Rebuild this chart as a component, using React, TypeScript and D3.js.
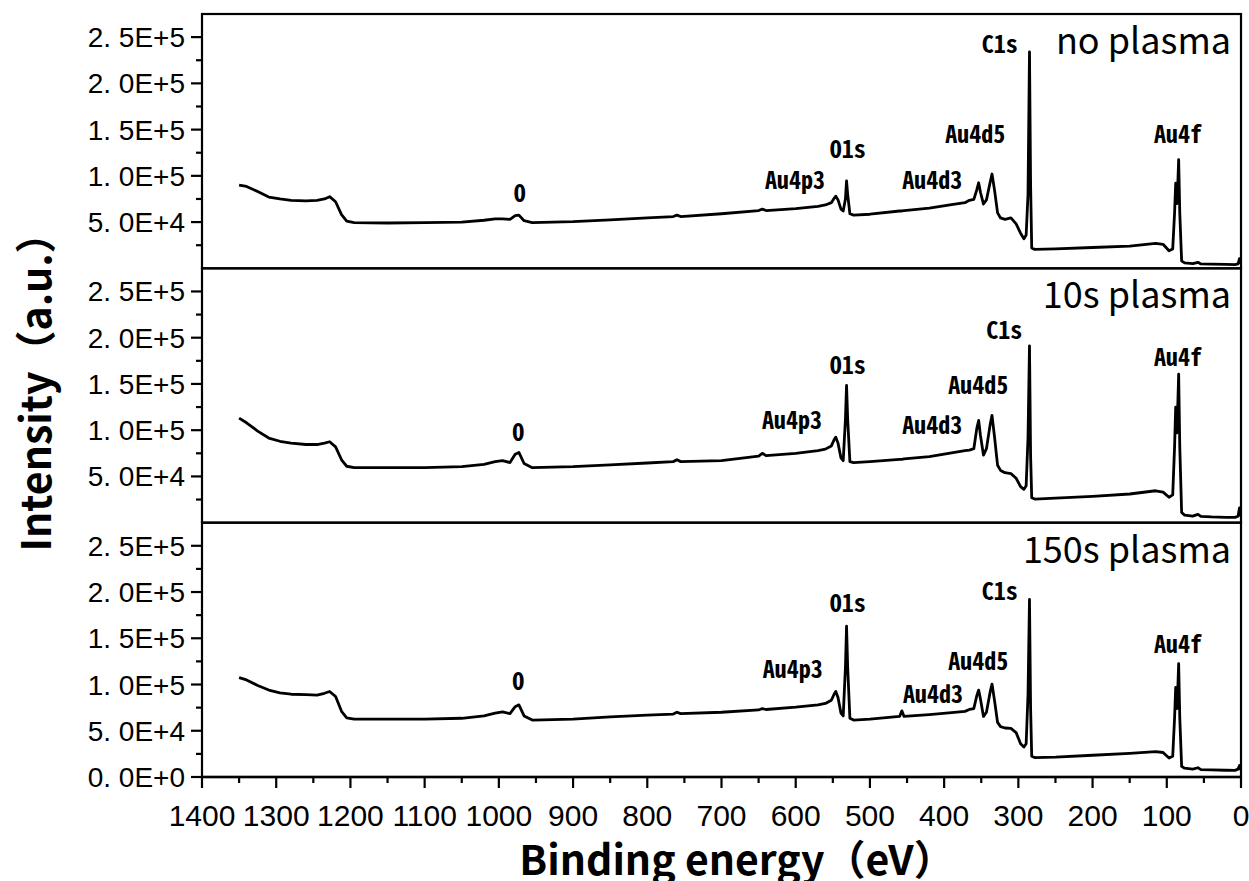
import React from "react";
import * as d3 from "d3";

// ---------- data ----------
const bindingEnergy = [
  1350, 1340, 1325, 1310, 1295, 1280, 1260, 1245, 1235, 1228,
  1220, 1212, 1205, 1195, 1150, 1100, 1050, 1020, 1005, 995,
  985, 978, 973, 966, 955, 900, 850, 800, 765, 760,
  755, 700, 650, 645, 640, 600, 570, 560, 552, 548,
  546, 543, 539, 536, 533, 531.5, 530, 527, 522, 500,
  460, 457, 454, 420, 390, 372, 366, 360, 356, 353.5,
  351, 347, 343, 338, 335.5, 332, 328, 324, 318, 310,
  303, 297, 292.5, 289.5, 287, 285, 283.5, 282, 278, 250,
  200, 150, 115, 105, 97, 92, 89.5, 88, 86.5, 85,
  84, 82.5, 80, 76, 65, 58, 54, 40, 20, 8,
  4, 2, 1, 0,
];

const noPlasma = [
  90000, 88500, 83000, 77000, 75000, 73500, 73000, 73500, 75000, 77500,
  72000, 58000, 51000, 49500, 49000, 49500, 50000, 52000, 53500, 53500,
  53000, 57000, 57500, 51500, 49500, 50500, 52500, 54500, 56000, 57500,
  56000, 59000, 62500, 64000, 62500, 64500, 67000, 68500, 71000, 76000,
  78000, 74000, 64000, 62000, 75000, 94500, 80000, 59000, 57500, 58500,
  62000, 62000, 62500, 65000, 69000, 71000, 73500, 74500, 85000, 92500,
  82000, 69500, 74000, 93000, 102000, 84000, 60000, 54500, 53000, 54500,
  48000, 38000, 32000, 36000, 80000, 234000, 90000, 22000, 20500, 21000,
  22500, 24000, 27000, 26000, 19000, 21000, 60000, 92000, 70000, 95000,
  117500, 60000, 8000, 5800, 5000, 6500, 4800, 4500, 4200, 4000,
  4800, 10500, 8000, 5000,
];

const plasma10s = [
  113000, 108000, 99000, 91500, 88000, 86000, 84500, 84500, 86000, 87500,
  82000, 68000, 61000, 59500, 59500, 59500, 60500, 63000, 66000, 67000,
  65000, 74000, 76000, 64000, 59500, 60500, 62500, 64500, 66000, 68000,
  66000, 67000, 72000, 75000, 72500, 75000, 78000, 79500, 83000, 90000,
  92500, 86000, 70000, 67000, 112000, 148500, 112000, 66000, 65000, 66000,
  68500, 68500, 69000, 71500, 75500, 78000, 78500, 80000, 102000, 110500,
  94000, 73000, 80000, 106000, 116000, 92000, 62000, 56500, 54000, 53000,
  48000, 39000, 36000, 40000, 92000, 191000, 72000, 27000, 25500, 26500,
  28500, 31000, 34500, 33000, 27500, 30000, 82000, 125000, 97000, 132000,
  160500, 82000, 11000, 8200, 7000, 9000, 6800, 6200, 5800, 5700,
  7000, 16000, 12000, 7000,
];

const plasma150s = [
  107500, 105000, 99000, 94000, 91000, 89500, 89000, 88500, 90500, 92500,
  87000, 71000, 64000, 62500, 62500, 62500, 63500, 66000, 69000, 70500,
  68500, 76000, 78000, 66000, 61500, 62500, 65000, 67000, 68000, 70000,
  68500, 70000, 72500, 74000, 73000, 75500, 78000, 79500, 83000, 90000,
  92500, 86000, 69000, 66000, 119000, 163000, 119000, 63500, 61500, 62500,
  65500, 71500, 65500, 67500, 69500, 71000, 73000, 74000, 88000, 94000,
  84000, 65500, 70000, 92000, 100500, 82000, 59000, 54500, 53000, 52500,
  48000, 36000, 32500, 36000, 89000, 192000, 74000, 22500, 21000, 21500,
  23500, 25500, 27500, 26500, 20500, 22500, 64000, 97000, 74000, 99000,
  122500, 64000, 11500, 9500, 8500, 10000, 8000, 7800, 7300, 7200,
  8500, 12500, 10000, 7500,
];

const seriesList = [noPlasma, plasma10s, plasma150s];
const panelTitles = ["no plasma", "10s plasma", "150s plasma"];

const peakNames = ["C1s", "Au4d5", "Au4f", "O1s", "Au4p3", "Au4d3", "O"];
// label anchor energies (x) and label baselines in data units, per panel
const peakLabelEnergy = [
  [325, 358, 85, 530, 601, 416, 972],
  [319, 354, 85, 530, 605, 416, 974],
  [325, 354, 85, 530, 604, 415, 974],
];
const peakLabelValue = [
  [233000, 135500, 135500, 119000, 85500, 85500, 71500],
  [199000, 139500, 169500, 161000, 101500, 96000, 88500],
  [191500, 115500, 134000, 178500, 107000, 80000, 94000],
];

const xMajorTicks = [1400, 1300, 1200, 1100, 1000, 900, 800, 700, 600, 500, 400, 300, 200, 100, 0];
const xMinorTicks = [1350, 1250, 1150, 1050, 950, 850, 750, 650, 550, 450, 350, 250, 150, 50];
const yMajorTicks = [0, 50000, 100000, 150000, 200000, 250000];
const yMinorTicks = [25000, 75000, 125000, 175000, 225000];
const yDomainMax = 275000;

// ---------- layout ----------
const W = 1249;
const H = 881;
const left = 202;
const right = 1241;
const top = 14;
const bottom = 777;
const panelH = (bottom - top) / 3;

const fmtY = (v: number) => {
  if (v === 0) return "0. 0E+0";
  const e = Math.floor(Math.log10(v));
  const m = v / Math.pow(10, e);
  return m.toFixed(1).replace(".", ". ") + "E+" + e;
};

const labelFont = "'Noto Sans Mono CJK SC', 'DejaVu Sans Mono', monospace";
const tickFont = "'Liberation Sans', Arial, sans-serif";
const titleFont = "'Noto Sans CJK SC', 'Noto Sans', sans-serif";

export default function App() {
  const x = d3.scaleLinear().domain([1400, 0]).range([left, right]);

  const panels = seriesList.map((vals, i) => {
    const pTop = top + i * panelH;
    const pBot = pTop + panelH;
    const y = d3.scaleLinear().domain([0, yDomainMax]).range([pBot, pTop]);
    const pts = bindingEnergy.map((be, k) => [be, vals[k]] as [number, number]);
    const line = d3
      .line<[number, number]>()
      .x((d) => x(d[0]))
      .y((d) => y(d[1]))(pts) as string;
    const majors = i === 2 ? yMajorTicks : yMajorTicks.filter((t) => t > 0);
    return (
      <g key={i}>
        <defs>
          <clipPath id={"clip" + i}>
            <rect x={left} y={pTop} width={right - left} height={panelH} />
          </clipPath>
        </defs>
        <path
          d={line}
          fill="none"
          stroke="#000"
          strokeWidth={2.8}
          strokeLinejoin="round"
          clipPath={`url(#clip${i})`}
        />
        <rect
          x={left}
          y={pTop}
          width={right - left}
          height={panelH}
          fill="none"
          stroke="#000"
          strokeWidth={2.2}
        />
        {majors.map((t) => (
          <g key={"ym" + t}>
            <line x1={left - 11} x2={left} y1={y(t)} y2={y(t)} stroke="#000" strokeWidth={2.2} />
            <text
              x={185}
              y={y(t) + 10}
              textAnchor="end"
              fontFamily={tickFont}
              fontSize={28}
              fill="#000"
            >
              {fmtY(t)}
            </text>
          </g>
        ))}
        {yMinorTicks.map((t) => (
          <line key={"yn" + t} x1={left - 6} x2={left} y1={y(t)} y2={y(t)} stroke="#000" strokeWidth={2.2} />
        ))}
        <text
          x={1231}
          y={pTop + 40}
          textAnchor="end"
          fontFamily={titleFont}
          fontSize={36}
          fontWeight={400}
          fill="#000"
        >
          {panelTitles[i]}
        </text>
        {peakNames.map((n, k) => (
          <text
            key={n}
            x={x(peakLabelEnergy[i][k])}
            y={y(peakLabelValue[i][k])}
            textAnchor="middle"
            fontFamily={labelFont}
            fontSize={24}
            fontWeight={700}
            fill="#000"
          >
            {n}
          </text>
        ))}
      </g>
    );
  });

  return (
    <div style={{ position: "fixed", left: 0, top: 0, background: "#fff" }}>
      <svg width={W} height={H} viewBox={`0 0 ${W} ${H}`} style={{ display: "block" }}>
        <rect width={W} height={H} fill="#fff" />
        {panels}
        {/* x axis */}
        <line x1={left} x2={right} y1={bottom} y2={bottom} stroke="#000" strokeWidth={2.6} />
        {xMajorTicks.map((t) => (
          <g key={"xm" + t}>
            <line x1={x(t)} x2={x(t)} y1={bottom} y2={bottom + 11} stroke="#000" strokeWidth={2.2} />
            <text
              x={x(t)}
              y={826}
              textAnchor="middle"
              fontFamily={tickFont}
              fontSize={30}
              fill="#000"
            >
              {t}
            </text>
          </g>
        ))}
        {xMinorTicks.map((t) => (
          <line key={"xn" + t} x1={x(t)} x2={x(t)} y1={bottom} y2={bottom + 6} stroke="#000" strokeWidth={2.2} />
        ))}
        <text
          x={737}
          y={875}
          textAnchor="middle"
          fontFamily={titleFont}
          fontSize={41}
          fontWeight={700}
          fill="#000"
        >
          Binding energy（eV）
        </text>
        <text
          transform={`translate(51, 382) rotate(-90)`}
          textAnchor="middle"
          fontFamily={titleFont}
          fontSize={41}
          fontWeight={700}
          fill="#000"
        >
          Intensity（a.u.）
        </text>
      </svg>
    </div>
  );
}
